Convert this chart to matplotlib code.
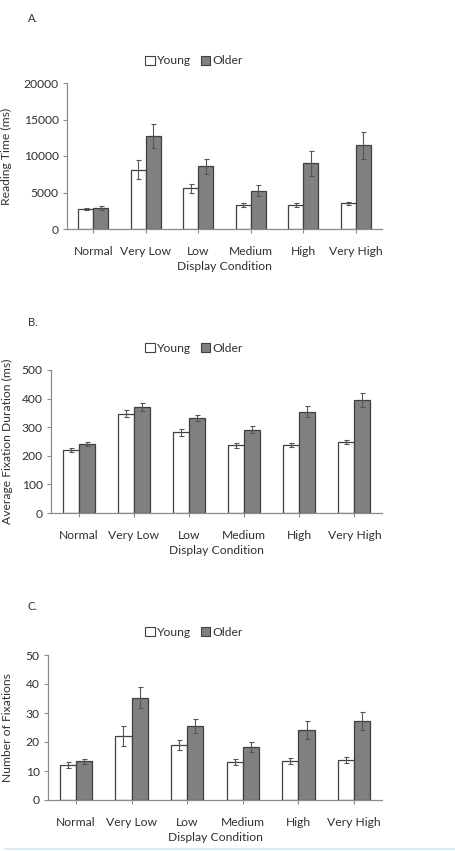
import matplotlib
matplotlib.use("Agg")
import matplotlib.pyplot as plt
import numpy as np
from matplotlib.patches import Patch
from matplotlib.lines import Line2D

plt.rcParams['font.family'] = ['Lato', 'DejaVu Sans']

conditions = ["Normal", "Very Low", "Low", "Medium", "High", "Very High"]
groups = ["Young", "Older"]

# A. reading time (ms)
read_young = [2750, 8100, 5600, 3250, 3300, 3500]
read_young_err = [150, 1300, 600, 250, 300, 250]
read_older = [2900, 12750, 8600, 5250, 9000, 11450]
read_older_err = [300, 1650, 1000, 750, 1750, 1850]

# B. average fixation duration (ms)
dur_young = [220, 347, 282, 237, 238, 248]
dur_young_err = [7, 12, 12, 8, 7, 8]
dur_older = [241, 370, 332, 291, 354, 394]
dur_older_err = [8, 13, 10, 12, 20, 25]

# C. number of fixations
fix_young = [12.1, 22.1, 18.9, 13.2, 13.5, 13.8]
fix_young_err = [0.9, 3.5, 1.7, 1.0, 1.0, 0.9]
fix_older = [13.3, 35.3, 25.5, 18.2, 24.2, 27.2]
fix_older_err = [0.9, 3.5, 2.4, 1.7, 3.1, 3.1]

W, H = 455, 851
txt = "#303030"
edge = "#404040"
axc = "#8c8c8c"

fig = plt.figure(figsize=(W / 100, H / 100), dpi=100)

panels = [
    # letter, letter_y, legend_y, box (l, r, top, bottom), ylabel x, data
    ("A.", 18, 61, (67, 382, 83, 229), 12, "Reading Time (ms)",
     read_young, read_young_err, read_older, read_older_err, 20000, 5000),
    ("B.", 323, 348, (51, 382, 370, 513), 13, "Average Fixation Duration (ms)",
     dur_young, dur_young_err, dur_older, dur_older_err, 500, 100),
    ("C.", 607, 632, (48, 382, 655, 800), 13, "Number of Fixations",
     fix_young, fix_young_err, fix_older, fix_older_err, 50, 10),
]

x = np.arange(len(conditions))
bw = 0.29

for (letter, ly, gy, box, ylx, ylab, yv, ye, ov, oe, ymax, step) in panels:
    l, r, t, b = box
    ax = fig.add_axes([l / W, (H - b) / H, (r - l) / W, (b - t) / H])
    ax.bar(x - bw / 2, yv, bw, color="white", edgecolor=edge, linewidth=0.9)
    ax.bar(x + bw / 2, ov, bw, color="#808080", edgecolor=edge, linewidth=0.9)
    ax.errorbar(x - bw / 2, yv, yerr=ye, fmt="none", ecolor="#555555",
                elinewidth=0.8, capsize=1.8, capthick=0.8)
    ax.errorbar(x + bw / 2, ov, yerr=oe, fmt="none", ecolor="#555555",
                elinewidth=0.8, capsize=1.8, capthick=0.8)
    ax.set_xlim(-0.5, 5.5)
    ax.set_ylim(0, ymax)
    ax.set_yticks(np.arange(0, ymax + step / 2, step))
    ax.set_xticks(x)
    ax.set_xticklabels(conditions)
    for s in ["top", "right"]:
        ax.spines[s].set_visible(False)
    for s in ["left", "bottom"]:
        ax.spines[s].set_color(axc)
        ax.spines[s].set_linewidth(0.9)
    ax.tick_params(axis="x", length=3, width=0.8, color=axc, pad=9,
                   labelsize=8.7, labelcolor=txt)
    ax.tick_params(axis="y", length=3, width=0.8, color=axc, pad=3,
                   labelsize=8.7, labelcolor=txt)
    ax.set_xlabel("Display Condition", fontsize=8.7, color=txt, labelpad=3)
    ax.set_ylabel(ylab, fontsize=8.7, color=txt)
    ax.yaxis.set_label_coords((ylx - l) / (r - l), 0.5)
    fig.text(28 / W, 1 - ly / H, letter, fontsize=8, color=txt, va="center")
    handles = [Patch(facecolor="white", edgecolor=edge, linewidth=0.8),
               Patch(facecolor="#808080", edgecolor=edge, linewidth=0.8)]
    fig.legend(handles, groups, loc="center", bbox_to_anchor=(194 / W, 1 - gy / H),
               ncol=2, frameon=False, fontsize=8.7, labelcolor=txt,
               handlelength=0.8, handleheight=0.8, handletextpad=0.2,
               columnspacing=0.8)

fig.add_artist(Line2D([5 / W, 1], [1 - 849 / H, 1 - 849 / H],
                      transform=fig.transFigure, color="#cfe8f8", linewidth=1.2))

fig.savefig("out.png", dpi=100)
